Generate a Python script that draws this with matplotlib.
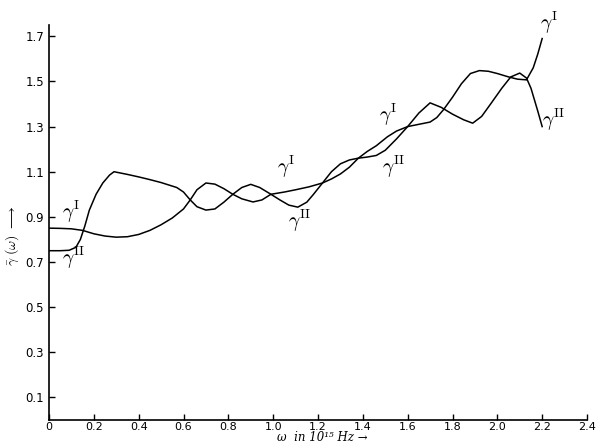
import matplotlib
matplotlib.use("Agg")
import matplotlib.pyplot as plt

plt.rcParams['mathtext.fontset'] = 'cm'

# values
omega_1 = [0.0, 0.05, 0.10, 0.15, 0.20, 0.25, 0.30, 0.35, 0.40, 0.45, 0.50, 0.55, 0.60,
           0.63, 0.66, 0.70, 0.74, 0.78, 0.82, 0.86, 0.91, 0.95, 0.99, 1.05, 1.10, 1.16,
           1.22, 1.26, 1.30, 1.34, 1.38, 1.42, 1.46, 1.51, 1.55, 1.60, 1.65, 1.70, 1.73,
           1.76, 1.80, 1.84, 1.88, 1.92, 1.96, 2.00, 2.05, 2.09, 2.13, 2.16, 2.18, 2.20]
gamma_1 = [0.85, 0.849, 0.847, 0.84, 0.825, 0.815, 0.81, 0.812, 0.822, 0.84, 0.865, 0.895, 0.935,
           0.975, 1.02, 1.05, 1.045, 1.025, 1.0, 0.98, 0.966, 0.975, 1.0, 1.01, 1.02, 1.033,
           1.05, 1.068, 1.09, 1.12, 1.16, 1.19, 1.215, 1.255, 1.28, 1.30, 1.31, 1.32, 1.34,
           1.375, 1.43, 1.49, 1.535, 1.548, 1.545, 1.535, 1.52, 1.51, 1.507, 1.56, 1.62, 1.69]

omega_2 = [0.0, 0.05, 0.09, 0.12, 0.14, 0.16, 0.18, 0.21, 0.24, 0.27, 0.29, 0.35, 0.40,
           0.45, 0.50, 0.57, 0.60, 0.63, 0.66, 0.70, 0.74, 0.78, 0.82, 0.86, 0.90, 0.94,
           0.99, 1.03, 1.07, 1.11, 1.15, 1.18, 1.22, 1.26, 1.30, 1.34, 1.38, 1.42, 1.46,
           1.50, 1.55, 1.60, 1.65, 1.70, 1.75, 1.80, 1.85, 1.89, 1.93, 1.97, 2.02, 2.06,
           2.10, 2.13, 2.15, 2.18, 2.20]
gamma_2 = [0.75, 0.75, 0.752, 0.765, 0.80, 0.86, 0.93, 1.0, 1.05, 1.085, 1.10, 1.088, 1.077,
           1.065, 1.052, 1.03, 1.01, 0.975, 0.945, 0.93, 0.935, 0.965, 1.0, 1.03, 1.044, 1.03,
           1.0, 0.975, 0.952, 0.943, 0.965, 1.0, 1.05, 1.10, 1.135, 1.152, 1.16, 1.165, 1.172,
           1.195, 1.245, 1.30, 1.36, 1.405, 1.385, 1.355, 1.33, 1.315, 1.345, 1.40, 1.47, 1.52,
           1.537, 1.515, 1.47, 1.37, 1.30]

xticks = [0, 0.2, 0.4, 0.6, 0.8, 1.0, 1.2, 1.4, 1.6, 1.8, 2.0, 2.2, 2.4]
xlabels = ['0', '0.2', '0.4', '0.6', '0.8', '1.0', '1.2', '1.4', '1.6', '1.8', '2.0', '2.2', '2.4']
yticks = [0.1, 0.3, 0.5, 0.7, 0.9, 1.1, 1.3, 1.5, 1.7]
ylabels = ['0.1', '0.3', '0.5', '0.7', '0.9', '1.1', '1.3', '1.5', '1.7']

fig = plt.figure(figsize=(5.97, 4.45), dpi=100)
ax = fig.add_axes([49 / 597, 25 / 445, 538 / 597, 395 / 445])

ax.plot(omega_1, gamma_1, color='black', lw=1.1)
ax.plot(omega_2, gamma_2, color='black', lw=1.1)

ax.set_xlim(0, 2.4)
ax.set_ylim(0, 1.75)
ax.spines['top'].set_visible(False)
ax.spines['right'].set_visible(False)
ax.spines['left'].set_linewidth(1.2)
ax.spines['bottom'].set_linewidth(1.2)

ax.set_xticks(xticks)
ax.set_xticklabels(xlabels)
ax.set_yticks(yticks)
ax.set_yticklabels(ylabels)
ax.tick_params(direction='in', length=4, width=1, labelsize=8.5)
ax.tick_params(axis='x', pad=1.5, labelsize=8)

# curve labels
lab = dict(fontsize=14, ha='center', va='center')
ax.text(0.10, 0.92, r'$\gamma^{\rm I}$', **lab)
ax.text(0.11, 0.72, r'$\gamma^{\rm II}$', **lab)
ax.text(1.055, 1.12, r'$\gamma^{\rm I}$', **lab)
ax.text(1.115, 0.88, r'$\gamma^{\rm II}$', **lab)
ax.text(1.51, 1.35, r'$\gamma^{\rm I}$', **lab)
ax.text(1.535, 1.12, r'$\gamma^{\rm II}$', **lab)
ax.text(2.23, 1.76, r'$\gamma^{\rm I}$', clip_on=False, **lab)
ax.text(2.25, 1.33, r'$\gamma^{\rm II}$', **lab)

fig.text(322 / 597, 1 / 445, 'ω  in 10¹⁵ Hz →', family='DejaVu Serif',
         style='italic', ha='center', va='bottom', fontsize=8.5)
fig.text(12 / 597, 1 - 236 / 445, r'$\bar{\gamma}\ (\omega)$ $\longrightarrow$',
         ha='center', va='center', rotation=90, fontsize=10)

fig.savefig('out.png', dpi=100)
